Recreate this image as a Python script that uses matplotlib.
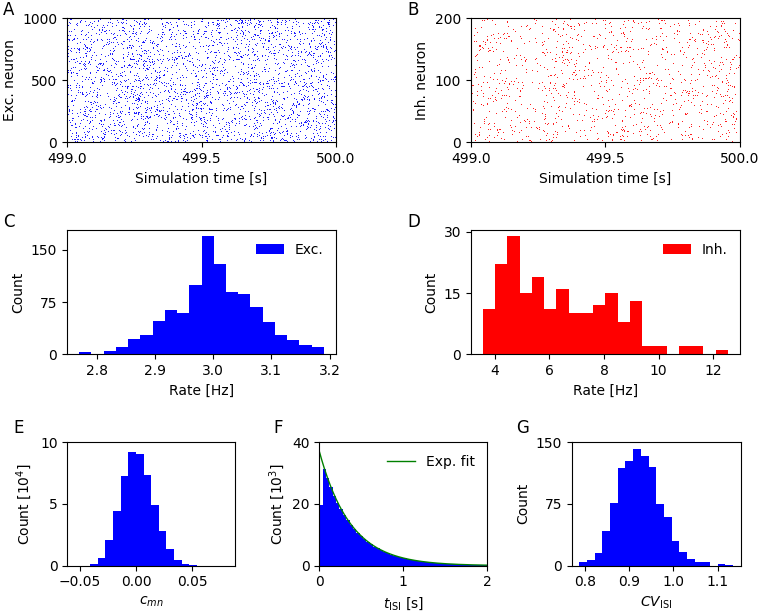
import numpy as np
import matplotlib
matplotlib.use("Agg")
import matplotlib.pyplot as plt

# ---------------- data ----------------
# Raster (spike trains, window 499-500 s)
raster_t0, raster_t1 = 499.0, 500.0
n_exc, n_inh = 1000, 200
exc_rate_hz, inh_rate_hz = 3.0, 6.0

# C: excitatory rate histogram
exc_rate_lo, exc_rate_hi = 2.770, 3.190
exc_rate_counts = [3, 0, 5, 11, 22, 27, 48, 64, 59, 100, 170, 130, 89, 86, 68, 47, 27, 20, 14, 10]

# D: inhibitory rate histogram
inh_rate_lo, inh_rate_hi = 3.56, 12.54
inh_rate_counts = [11, 22, 29, 15, 19, 11, 16, 10, 10, 12, 15, 8, 13, 2, 2, 0, 2, 2, 0, 1]

# E: pairwise correlation histogram (units of 1e4)
corr_lo, corr_hi = -0.0545, 0.081
corr_counts = [0.0001, 0.002, 0.1, 0.65, 2.08, 4.45, 7.22, 9.16, 9.03, 7.3,
               4.88, 2.78, 1.32, 0.49, 0.16, 0.04, 0.01, 0.003, 0.001, 0.0005]

# F: ISI histogram (units of 1e3), bins of 0.04 s from 0 to 2 s
isi_lo, isi_hi = 0.0, 2.0
isi_counts = [19.5, 31.3, 28.2, 25.3, 22.7, 20.4, 18.3, 16.4, 14.8, 13.2,
              11.9, 10.7, 9.6, 8.6, 7.7, 6.9, 6.2, 5.6, 5.0, 4.5,
              4.0, 3.6, 3.25, 2.9, 2.6, 2.35, 2.1, 1.9, 1.7, 1.5,
              1.37, 1.23, 1.1, 0.99, 0.89, 0.8, 0.71, 0.64, 0.58, 0.52,
              0.46, 0.42, 0.37, 0.34, 0.3, 0.27, 0.24, 0.22, 0.2, 0.18]
fit_amp, fit_tau = 37.0, 0.37

# G: CV of ISI histogram
cv_lo, cv_hi = 0.787, 1.135
cv_counts = [5, 7, 16, 42, 76, 118, 127, 142, 133, 120, 75, 59, 30, 17, 8, 5, 5, 0, 2, 1]

# ---------------- figure ----------------
W, H = 761, 611
fig = plt.figure(figsize=(W / 100, H / 100), dpi=100)

def ax_px(l, t, r, b):
    return fig.add_axes([l / W, 1 - b / H, (r - l) / W, (b - t) / H])

axA = ax_px(67, 18.3, 336, 142.3)
axB = ax_px(470.7, 18.3, 740, 142.3)
axC = ax_px(67, 230, 336, 354.3)
axD = ax_px(470.7, 230, 740, 354.3)
axE = ax_px(67.3, 442, 235, 565.7)
axF = ax_px(319.3, 442, 487.3, 565.7)
axG = ax_px(571.7, 442, 740.7, 565.7)

# Raster spikes (synthetic Poisson trains, seeded, texture only)
rng = np.random.default_rng(7)
def poisson_raster(n, rate):
    ts, ids = [], []
    for i in range(n):
        k = rng.poisson(rate * (raster_t1 - raster_t0))
        ts.append(rng.uniform(raster_t0, raster_t1, k))
        ids.append(np.full(k, i))
    return np.concatenate(ts), np.concatenate(ids)

te, ie = poisson_raster(n_exc, exc_rate_hz)
ti, ii = poisson_raster(n_inh, inh_rate_hz)

axA.plot(te, ie, linestyle='none', marker='.', ms=1.3, mew=0, color='#0000ff')
axA.set_xlim(raster_t0, raster_t1)
axA.set_ylim(0, n_exc)
axA.set_xticks([499.0, 499.5, 500.0])
axA.set_yticks([0, 500, 1000])
axA.set_xlabel('Simulation time [s]')
axA.set_ylabel('Exc. neuron')

axB.plot(ti, ii, linestyle='none', marker='.', ms=1.3, mew=0, color='#ff0000')
axB.set_xlim(raster_t0, raster_t1)
axB.set_ylim(0, n_inh)
axB.set_xticks([499.0, 499.5, 500.0])
axB.set_yticks([0, 100, 200])
axB.set_xlabel('Simulation time [s]')
axB.set_ylabel('Inh. neuron')

def hist_bars(ax, lo, hi, counts, color, label=None):
    edges = np.linspace(lo, hi, len(counts) + 1)
    return ax.bar(edges[:-1], counts, width=np.diff(edges), align='edge',
                  color=color, linewidth=0, label=label)

hist_bars(axC, exc_rate_lo, exc_rate_hi, exc_rate_counts, '#0000ff', 'Exc.')
axC.set_yticks([0, 75, 150])
axC.set_xlabel('Rate [Hz]')
axC.set_ylabel('Count')
axC.legend(loc='upper right', frameon=False)

hist_bars(axD, inh_rate_lo, inh_rate_hi, inh_rate_counts, '#ff0000', 'Inh.')
axD.set_yticks([0, 15, 30])
axD.set_xticks([4, 6, 8, 10, 12])
axD.set_xlabel('Rate [Hz]')
axD.set_ylabel('Count')
axD.legend(loc='upper right', frameon=False)

hist_bars(axE, corr_lo, corr_hi, corr_counts, '#0000ff')
axE.set_ylim(0, 10)
axE.set_yticks([0, 5, 10])
axE.set_xticks([-0.05, 0.0, 0.05])
axE.set_xlabel('$c_{mn}$')
axE.set_ylabel('Count [$10^4$]')

hist_bars(axF, isi_lo, isi_hi, isi_counts, '#0000ff')
tt = np.linspace(isi_lo, isi_hi, 400)
axF.plot(tt, fit_amp * np.exp(-tt / fit_tau), color='#008000', lw=1.0, label='Exp. fit')
axF.set_xlim(0, 2)
axF.set_ylim(0, 40)
axF.set_xticks([0, 1, 2])
axF.set_yticks([0, 20, 40])
axF.set_xlabel(r'$t_{\mathrm{ISI}}$ [s]')
axF.set_ylabel('Count [$10^3$]')
axF.legend(loc='upper right', frameon=False)

hist_bars(axG, cv_lo, cv_hi, cv_counts, '#0000ff')
axG.set_ylim(0, 150)
axG.set_yticks([0, 75, 150])
axG.set_xticks([0.8, 0.9, 1.0, 1.1])
axG.set_xlabel(r'$CV_{\mathrm{ISI}}$')
axG.set_ylabel('Count')

for lab, x, y in [('A', 3, 15), ('B', 407, 15), ('C', 3, 227), ('D', 407, 227),
                  ('E', 13, 433), ('F', 273, 433), ('G', 516, 433)]:
    fig.text(x / W, 1 - y / H, lab, fontsize=12, ha='left', va='baseline')

fig.savefig('out.png', dpi=100)
